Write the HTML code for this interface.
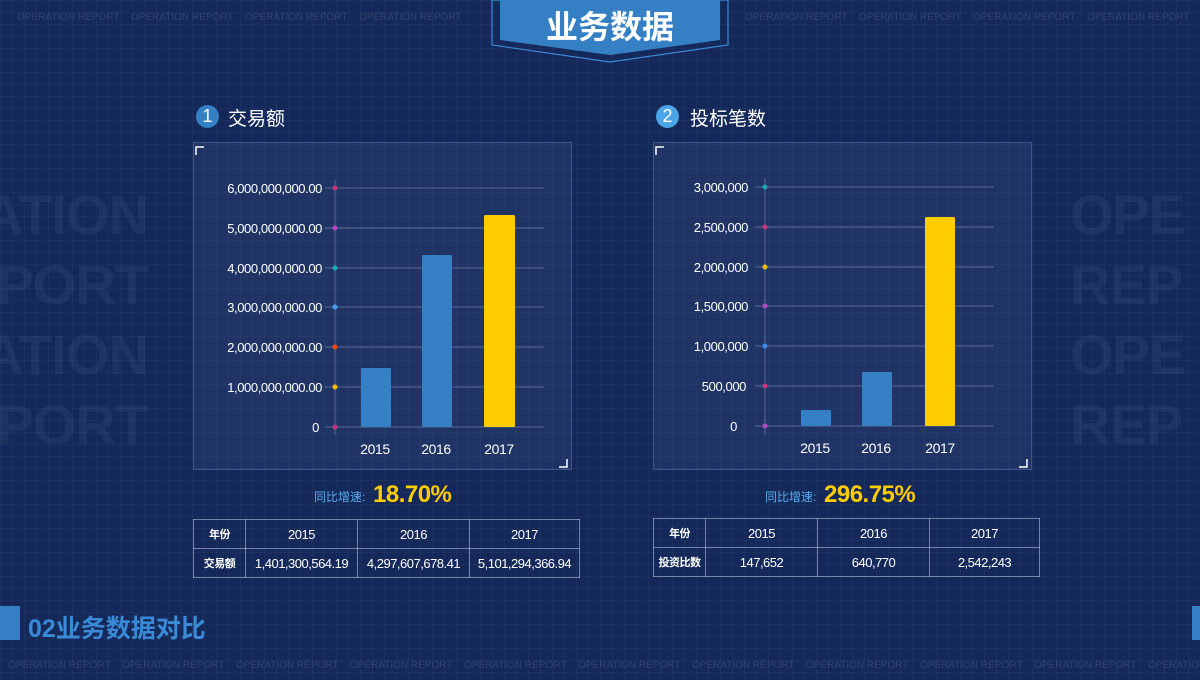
<!DOCTYPE html>
<html><head><meta charset="utf-8"><style>
*{margin:0;padding:0;box-sizing:border-box}
body{width:1200px;height:680px;overflow:hidden;position:relative;background:#14295a;font-family:"Liberation Sans","Noto Sans CJK SC",sans-serif;color:#fff}
.grid{position:absolute;inset:0;background-image:linear-gradient(rgba(255,255,255,.03) 1px,transparent 1px),linear-gradient(90deg,rgba(255,255,255,.03) 1px,transparent 1px);background-size:12px 12px}
.wm{position:absolute;font-size:10px;color:rgba(255,255,255,.12);white-space:nowrap;display:flex}
.wm span{display:block;width:114px}
.big{position:absolute;font-size:56px;font-weight:bold;color:rgba(255,255,255,.05);line-height:70px;letter-spacing:-1px}
.a{position:absolute}
.panel{position:absolute;border:1px solid rgba(120,150,200,.35);background:rgba(60,80,130,.3)}
.t{position:absolute;font-size:13px;white-space:nowrap}
table{position:absolute;border-collapse:collapse;font-size:13px;letter-spacing:-0.5px}
td{border:1px solid rgba(180,190,220,.6);text-align:center;height:29px}
</style></head><body>
<div class="grid"></div>
<div class="wm" style="left:17px;top:12px"><span>OPERATION REPORT</span><span>OPERATION REPORT</span><span>OPERATION REPORT</span><span>OPERATION REPORT</span></div>
<div class="wm" style="left:745px;top:12px"><span>OPERATION REPORT</span><span>OPERATION REPORT</span><span>OPERATION REPORT</span><span>OPERATION REPORT</span></div>
<div class="wm" style="left:8px;top:660px"><span>OPERATION REPORT</span><span>OPERATION REPORT</span><span>OPERATION REPORT</span><span>OPERATION REPORT</span><span>OPERATION REPORT</span><span>OPERATION REPORT</span><span>OPERATION REPORT</span><span>OPERATION REPORT</span><span>OPERATION REPORT</span><span>OPERATION REPORT</span><span>OPERATION REPORT</span></div>
<div class="big" style="right:1052px;top:180px;text-align:right">ATION<br>PORT<br>ATION<br>PORT</div>
<div class="big" style="left:1070px;top:180px">OPE<br>REP<br>OPE<br>REP</div>

<svg class="a" style="left:480px;top:0" width="260" height="70"><polygon points="12,0 248,0 248,45 130,62 12,45" fill="none" stroke="#3a8ad8" stroke-width="1.2"/><polygon points="20,0 240,0 240,40 130,55 20,40" fill="#3580c4"/><text x="130" y="38" text-anchor="middle" font-size="32" font-weight="bold" fill="#fff" font-family="Liberation Sans,Noto Sans CJK SC,sans-serif">业务数据</text></svg>

<div class="a" style="left:196px;top:105px;width:23px;height:23px;border-radius:50%;background:#3580c4;font-size:18px;text-align:center;line-height:23px">1</div>
<div class="t" style="left:228px;top:104px;font-size:19px">交易额</div>
<div class="a" style="left:656px;top:105px;width:23px;height:23px;border-radius:50%;background:#4ba3e8;font-size:18px;text-align:center;line-height:23px">2</div>
<div class="t" style="left:690px;top:104px;font-size:19px">投标笔数</div>

<div class="panel" style="left:193px;top:142px;width:379px;height:328px"></div>
<div class="panel" style="left:653px;top:142px;width:379px;height:328px"></div>

<svg class="a" style="left:0;top:0" width="1200" height="680" font-family="Liberation Sans,sans-serif" font-size="13" fill="#fff">
<path d="M196 155V147H204M567 459V467H559M656 155V147H664M1027 459V467H1019" stroke="#fff" stroke-width="1.5" fill="none"/>
<g stroke="rgba(200,210,235,.35)" stroke-width="1">
<line x1="335" y1="180" x2="335" y2="435"/>
<line x1="325" y1="188" x2="544" y2="188"/><line x1="325" y1="228" x2="544" y2="228"/><line x1="325" y1="268" x2="544" y2="268"/><line x1="325" y1="307" x2="544" y2="307"/><line x1="325" y1="347" x2="544" y2="347"/><line x1="325" y1="387" x2="544" y2="387"/><line x1="325" y1="427" x2="544" y2="427"/>
<line x1="765" y1="178" x2="765" y2="435"/>
<line x1="755" y1="187" x2="994" y2="187"/><line x1="755" y1="227" x2="994" y2="227"/><line x1="755" y1="267" x2="994" y2="267"/><line x1="755" y1="306" x2="994" y2="306"/><line x1="755" y1="346" x2="994" y2="346"/><line x1="755" y1="386" x2="994" y2="386"/><line x1="755" y1="426" x2="994" y2="426"/>
</g>
<g text-anchor="end" letter-spacing="-0.4">
<text x="322" y="193">6,000,000,000.00</text><text x="322" y="233">5,000,000,000.00</text><text x="322" y="273">4,000,000,000.00</text><text x="322" y="312">3,000,000,000.00</text><text x="322" y="352">2,000,000,000.00</text><text x="322" y="392">1,000,000,000.00</text><text x="319" y="432">0</text>
<text x="748" y="192">3,000,000</text><text x="748" y="232">2,500,000</text><text x="748" y="272">2,000,000</text><text x="748" y="311">1,500,000</text><text x="748" y="351">1,000,000</text><text x="746" y="391">500,000</text><text x="737" y="431">0</text>
</g>
<g>
<circle cx="335" cy="188" r="2.5" fill="#c4377e"/><circle cx="335" cy="228" r="2.5" fill="#b04ac8"/><circle cx="335" cy="268" r="2.5" fill="#1fa5b5"/><circle cx="335" cy="307" r="2.5" fill="#3fa0ee"/><circle cx="335" cy="347" r="2.5" fill="#ee4a10"/><circle cx="335" cy="387" r="2.5" fill="#f0c000"/><circle cx="335" cy="427" r="2.5" fill="#c4377e"/>
<circle cx="765" cy="187" r="2.5" fill="#1fa5b5"/><circle cx="765" cy="227" r="2.5" fill="#c4377e"/><circle cx="765" cy="267" r="2.5" fill="#f0c000"/><circle cx="765" cy="306" r="2.5" fill="#b04ac8"/><circle cx="765" cy="346" r="2.5" fill="#3f8aee"/><circle cx="765" cy="386" r="2.5" fill="#c4377e"/><circle cx="765" cy="426" r="2.5" fill="#b04ac8"/>
</g>
<rect x="361" y="368" width="30" height="59" rx="1.5" fill="#3580c4"/>
<rect x="422" y="255" width="30" height="172" rx="1.5" fill="#3580c4"/>
<rect x="484" y="215" width="31" height="212" rx="1.5" fill="#ffcc00"/>
<rect x="801" y="410" width="30" height="16" rx="1.5" fill="#3580c4"/>
<rect x="862" y="372" width="30" height="54" rx="1.5" fill="#3580c4"/>
<rect x="925" y="217" width="30" height="209" rx="1.5" fill="#ffcc00"/>
<g text-anchor="middle" font-size="14" letter-spacing="-0.4">
<text x="375" y="454">2015</text><text x="436" y="454">2016</text><text x="499" y="454">2017</text>
<text x="815" y="453">2015</text><text x="876" y="453">2016</text><text x="940" y="453">2017</text>
</g>
</svg>

<div class="t" style="left:314px;top:488px;color:#5aaaf0;font-size:12px">同比增速:</div>
<div class="t" style="left:373px;top:481px;color:#ffcc00;font-size:24px;font-weight:bold;letter-spacing:-0.5px">18.70%</div>
<div class="t" style="left:765px;top:488px;color:#5aaaf0;font-size:12px">同比增速:</div>
<div class="t" style="left:824px;top:481px;color:#ffcc00;font-size:24px;font-weight:bold;letter-spacing:-0.5px">296.75%</div>

<table style="left:193px;top:519px;width:387px">
<tr><td style="width:52px;font-size:11px;font-weight:bold">年份</td><td style="width:112px">2015</td><td style="width:112px">2016</td><td>2017</td></tr>
<tr><td style="font-size:11px;font-weight:bold">交易额</td><td>1,401,300,564.19</td><td>4,297,607,678.41</td><td>5,101,294,366.94</td></tr>
</table>
<table style="left:653px;top:518px;width:387px">
<tr><td style="width:52px;font-size:11px;font-weight:bold">年份</td><td style="width:112px">2015</td><td style="width:112px">2016</td><td>2017</td></tr>
<tr><td style="font-size:11px;font-weight:bold">投资比数</td><td>147,652</td><td>640,770</td><td>2,542,243</td></tr>
</table>

<div class="a" style="left:0;top:606px;width:20px;height:34px;background:#3580c4"></div>
<div class="a" style="left:1192px;top:606px;width:8px;height:34px;background:#3580c4"></div>
<div class="t" style="left:28px;top:609px;font-size:25px;color:#3a8ad8;font-weight:bold">02业务数据对比</div>
</body></html>
